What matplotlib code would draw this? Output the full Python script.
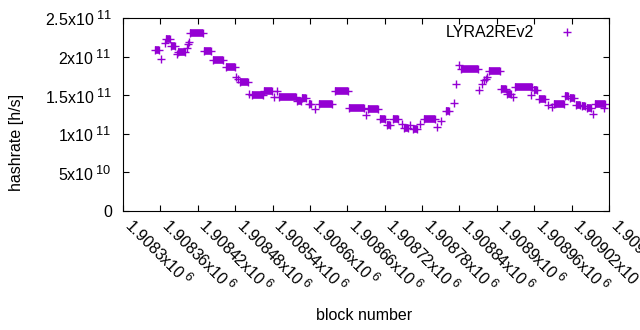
import numpy as np
import matplotlib
matplotlib.use("Agg")
import matplotlib.pyplot as plt
import matplotlib.ticker as ticker
import matplotlib._mathtext as _mt

plt.rcParams['font.family'] = ['Liberation Sans', 'DejaVu Sans']
plt.rcParams['mathtext.fontset'] = 'custom'
plt.rcParams['mathtext.rm'] = 'Liberation Sans'
plt.rcParams['mathtext.it'] = 'Liberation Sans'
# gnuplot draws exponents a bit larger than matplotlib's default
_mt.SHRINK_FACTOR = 0.8

series_name = 'LYRA2REv2'
COLOR = '#9400D3'

# stretches of consecutive blocks with the same hashrate (GH/s = 1e9 h/s)
run_start = [1908352, 1908369, 1908377, 1908388, 1908407, 1908430, 1908445, 1908465,
             1908488, 1908507, 1908527, 1908550, 1908580, 1908588, 1908598, 1908614,
             1908640, 1908662, 1908694, 1908712, 1908723, 1908733, 1908751, 1908766,
             1908783, 1908818, 1908842, 1908887, 1908906, 1908917, 1908929, 1908959,
             1908968, 1908992, 1909009, 1909018, 1909027, 1909036, 1909045, 1909058]
run_end = [1908358, 1908375, 1908383, 1908400, 1908428, 1908442, 1908460, 1908480,
           1908500, 1908525, 1908539, 1908577, 1908586, 1908594, 1908601, 1908635,
           1908661, 1908686, 1908709, 1908721, 1908729, 1908742, 1908757, 1908772,
           1908801, 1908824, 1908869, 1908905, 1908915, 1908923, 1908956, 1908965,
           1908977, 1909007, 1909014, 1909024, 1909033, 1909042, 1909051, 1909073]
run_rate = [208, 223, 214, 206, 231, 207, 195, 186,
            167, 150, 156, 148, 143, 147, 139, 139,
            155, 134, 132.5, 119, 112, 119, 108, 106.5,
            119, 129, 183.5, 181, 158, 152, 161, 157,
            145, 139, 149, 146, 137, 136, 133, 139]

# isolated blocks
single_block = [1908361, 1908367, 1908387, 1908403, 1908404, 1908406, 1908482, 1908485,
                1908502, 1908542, 1908547, 1908608, 1908690, 1908748, 1908761, 1908777,
                1908804, 1908810, 1908831, 1908834, 1908839, 1908871, 1908876, 1908879,
                1908882, 1908884, 1908926, 1908955, 1908982, 1908989, 1909054, 1909072]
single_rate = [197, 218, 204, 211, 216, 219, 174, 171,
               151.5, 148, 156, 132, 125, 113, 112, 113,
               109, 117, 139.5, 165, 189, 157, 165, 170,
               171, 173, 148, 150, 137, 135, 126, 133]

x_ticks = [1908300 + 60 * k for k in range(14)]
y_ticks = [0, 5e10, 1e11, 1.5e11, 2e11, 2.5e11]


def sci_fmt(v, pos=None):
    if v == 0:
        return '0'
    e = int(np.floor(np.log10(abs(v)) + 1e-9))
    m = '%.6g' % (v / 10 ** e)
    return r'$\mathregular{%sx10}^{\mathregular{\;%d}}$' % (m, e)


fig = plt.figure(figsize=(6.4, 3.3), dpi=100)
ax = fig.add_axes([123 / 640, 1 - 211 / 330, 486 / 640, 193 / 330])

ms = 5.5
run_rate_hs = np.array(run_rate) * 1e9
# a run of '+' points merges into a solid bar the height of the marker
ax.hlines(run_rate_hs, run_start, run_end, colors=COLOR, linewidth=ms, capstyle='butt')
ax.plot(run_start + run_end, list(run_rate_hs) * 2, linestyle='none', marker='+',
        ms=ms, mew=1.0, color=COLOR)
ax.plot(single_block, np.array(single_rate) * 1e9, linestyle='none', marker='+',
        ms=ms, mew=1.0, color=COLOR, label=series_name)

ax.set_xlim(1908300, 1909080)
ax.set_ylim(0, 2.5e11)
ax.set_xticks(x_ticks)
ax.set_yticks(y_ticks)
ax.xaxis.set_major_formatter(ticker.FuncFormatter(sci_fmt))
ax.yaxis.set_major_formatter(ticker.FuncFormatter(sci_fmt))
ax.tick_params(direction='in', length=4, width=0.8, top=True, right=True, labelsize=11.5)
ax.tick_params(axis='y', pad=8)
ax.tick_params(axis='x', pad=11)
for lbl in ax.get_xticklabels():
    lbl.set_rotation(-45)
    lbl.set_ha('left')
    lbl.set_va('baseline')
    lbl.set_rotation_mode('anchor')
for s in ax.spines.values():
    s.set_linewidth(0.8)

fig.text(364 / 640, 1 - 316 / 330, 'block number', ha='center', va='center', fontsize=11.5)
fig.text(17 / 640, 1 - 142 / 330, 'hashrate [h/s]', ha='center', va='center',
         rotation=90, fontsize=11.5)

ax.legend(loc='upper right', bbox_to_anchor=(0.957, 0.962), markerfirst=False,
          frameon=False, borderpad=0, borderaxespad=0, handlelength=2.6,
          handletextpad=0.8, fontsize=11.5)

fig.savefig('out.png', dpi=100)
